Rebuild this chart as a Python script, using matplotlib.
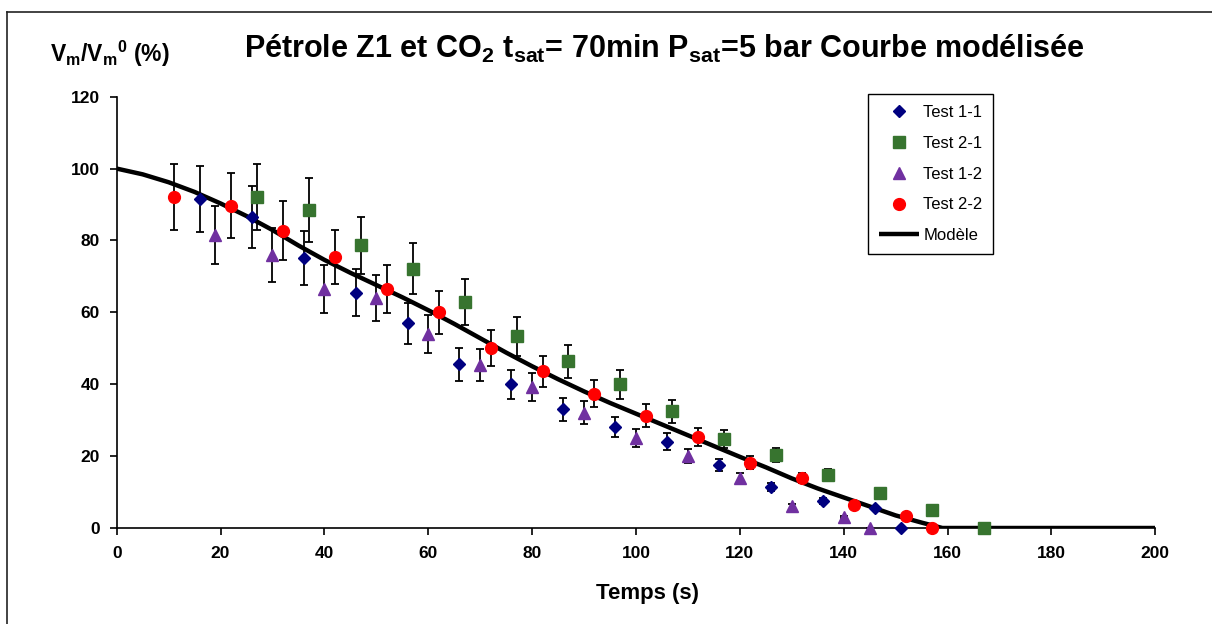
import matplotlib
matplotlib.use("Agg")
import matplotlib.pyplot as plt
from matplotlib.lines import Line2D
import numpy as np

plt.rcParams["font.family"] = ["Liberation Sans", "DejaVu Sans"]
plt.rcParams["mathtext.fontset"] = "custom"
plt.rcParams["mathtext.rm"] = "Liberation Sans:bold"
plt.rcParams["mathtext.it"] = "Liberation Sans:bold"
plt.rcParams["mathtext.bf"] = "Liberation Sans:bold"

# ── Data ─────────────────────────────────────────────────────────────────────
t11 = [16, 26, 36, 46, 56, 66, 76, 86, 96, 106, 116, 126, 136, 146, 151]
v11 = [91.5, 86.5, 75, 65.5, 57, 45.5, 40, 33, 28, 24, 17.5, 11.5, 7.5, 5.5, 0]

t21 = [27, 37, 47, 57, 67, 77, 87, 97, 107, 117, 127, 137, 147, 157, 167]
v21 = [92, 88.5, 78.6, 72.2, 62.9, 53.3, 46.4, 40, 32.5, 24.8, 20.3, 14.8, 9.8, 5, 0]

t12 = [19, 30, 40, 50, 60, 70, 80, 90, 100, 110, 120, 130, 140, 145]
v12 = [81.5, 76, 66.5, 64, 54, 45.3, 39.2, 32, 25, 20, 14, 6, 3, 0]

t22 = [11, 22, 32, 42, 52, 62, 72, 82, 92, 102, 112, 122, 132, 142, 152, 157]
v22 = [92, 89.7, 82.7, 75.4, 66.6, 60, 50, 43.6, 37.4, 31.3, 25.2, 18.2, 13.8, 6.5, 3.3, 0]

t_mod = [0, 5, 10, 15, 20, 25, 30, 35, 40, 45, 50, 55, 60, 65, 70, 75, 80,
         85, 90, 95, 100, 105, 110, 115, 120, 125, 130, 135, 140, 145, 150,
         155, 159, 200]
v_mod = [100, 98.4, 96.2, 93.5, 90.3, 86.8, 82.9, 78.6, 74.6, 71.0, 67.6,
         64.2, 60.6, 56.8, 52.8, 48.8, 45.0, 41.4, 38.0, 34.8, 31.8, 28.8,
         25.8, 22.8, 19.8, 16.9, 13.8, 11.0, 8.5, 6.0, 3.5, 1.5, 0, 0]

ERR_PCT = 10  # percentage error bars (Excel style)

series = [
    ("Test 1-1", t11, v11, "D", "#000080", 6.0),
    ("Test 2-1", t21, v21, "s", "#37742F", 8.0),
    ("Test 1-2", t12, v12, "^", "#7030A0", 8.5),
    ("Test 2-2", t22, v22, "o", "#FF0000", 8.5),
]

# ── Figure ───────────────────────────────────────────────────────────────────
W, H = 1212, 624
fig = plt.figure(figsize=(W / 100, H / 100), dpi=100, facecolor="white")
ax = fig.add_axes([116.7 / W, 1 - 528 / H, (1155.3 - 116.7) / W, (528 - 96.7) / H])

handles = []
for name, t, v, mk, col, ms in series:
    v = np.array(v)
    ax.errorbar(t, v, yerr=v * ERR_PCT / 100, fmt="none", ecolor="black",
                elinewidth=1.3, capsize=3.2, capthick=1.3, zorder=2, clip_on=False)
    h, = ax.plot(t, v, linestyle="none", marker=mk, ms=ms, color=col,
                 markeredgecolor=col, zorder=4, clip_on=False, label=name)
    handles.append(h)

hm, = ax.plot(t_mod, v_mod, color="black", lw=3.2, zorder=3, label="Modèle",
              solid_capstyle="butt")
handles.append(hm)

ax.set_xlim(0, 200)
ax.set_ylim(0, 120)
ax.set_xticks(np.arange(0, 201, 20))
ax.set_yticks(np.arange(0, 121, 20))
for sp in ["top", "right"]:
    ax.spines[sp].set_visible(False)
for sp in ["bottom", "left"]:
    ax.spines[sp].set_linewidth(1.2)
    ax.spines[sp].set_color("black")
ax.tick_params(axis="both", direction="out", length=5, width=1.2,
               labelsize=12.5)
ax.tick_params(axis="x", pad=8)
ax.tick_params(axis="y", pad=7)
for lbl in ax.get_xticklabels() + ax.get_yticklabels():
    lbl.set_fontweight("bold")

leg = ax.legend(handles=handles, loc="upper right", bbox_to_anchor=(0.844, 1.006),
                borderaxespad=0, fontsize=12, frameon=True, fancybox=False,
                framealpha=1, edgecolor="black", handlelength=2.4,
                handletextpad=0.25, borderpad=0.65, labelspacing=0.95)
leg.get_frame().set_linewidth(1.0)

# Titles and labels
fig.text(664 / W, 1 - 58 / H,
         "Pétrole Z1 et CO$_2$ t$_{sat}$= 70min P$_{sat}$=5 bar Courbe modélisée",
         ha="center", va="baseline", fontsize=22, fontweight="bold")
fig.text(50 / W, 1 - 62 / H, "V$_m$/V$_m$$^0$ (%)", ha="left", va="baseline",
         fontsize=16.5, fontweight="bold")
fig.text(647 / W, 1 - 599 / H, "Temps (s)", ha="center", va="baseline",
         fontsize=16, fontweight="bold")

# Chart-area border (only left and top edges visible)
fig.add_artist(Line2D([7.3 / W, 7.3 / W], [0, 1 - 12 / H], color="#222222", lw=1.2))
fig.add_artist(Line2D([7.3 / W, 1], [1 - 12 / H, 1 - 12 / H], color="#222222", lw=1.2))

fig.savefig("out.png", dpi=100, facecolor="white")
